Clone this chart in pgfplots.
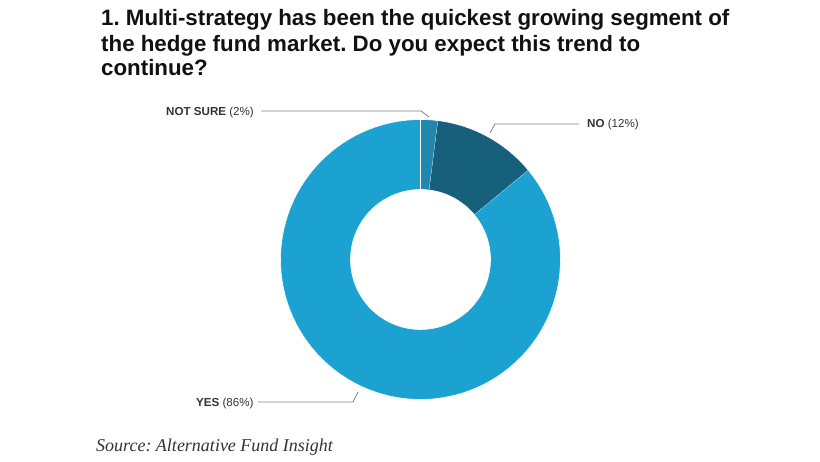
\documentclass[border=0pt]{standalone}
\usepackage{pgfplots}
\pgfplotsset{compat=1.18}
\usepackage{fontspec}
\setmainfont{Liberation Sans}
\newfontfamily\srcfont{Liberation Serif}
\definecolor{cyes}{HTML}{1CA2D0}
\definecolor{cno}{HTML}{17607C}
\definecolor{cns}{HTML}{2187AE}
\definecolor{ttl}{HTML}{111111}
\definecolor{txt}{HTML}{333333}
\definecolor{lead}{HTML}{808080}
% one donut segment: start and end as cumulative percentages, colour
\newcommand\seg[3]{%
\addplot[fill=#3, draw=white, line width=0.6pt, domain=0:2, samples=201, variable=\t]
 ({(\t<=1 ? 140 : 70)*cos(\t<=1 ? 90-3.6*(#1+(#2-#1)*\t) : 90-3.6*(#2-(#2-#1)*max(\t-1.01,0)/0.99))},
  {(\t<=1 ? 140 : 70)*sin(\t<=1 ? 90-3.6*(#1+(#2-#1)*\t) : 90-3.6*(#2-(#2-#1)*max(\t-1.01,0)/0.99))});
}
\begin{document}
\frenchspacing
\begin{tikzpicture}[x=1pt,y=1pt]
\useasboundingbox (0,0) rectangle (820,461);
\begin{axis}[at={(420.5,201.5)}, anchor=center, scale only axis,
  width=280pt, height=280pt, xmin=-140, xmax=140, ymin=-140, ymax=140,
  hide axis, clip=false]
% values: NOT SURE 2, NO 12, YES 86 (cumulative 0-2, 2-14, 14-100)
\seg{0}{2}{cns}
\seg{2}{14}{cno}
\seg{14}{100}{cyes}
\end{axis}
% title
\begin{scope}[every node/.style={anchor=base west, inner sep=0pt, text=ttl, font=\fontsize{22.3}{25}\selectfont\bfseries}]
\node at (101,435) {1. Multi-strategy has been the quickest growing segment of};
\node at (101,409.5) {the hedge fund market. Do you expect this trend to};
\node at (101,385) {continue?};
\end{scope}
% labels
\begin{scope}[every node/.style={anchor=base west, inner sep=0pt, text=txt, font=\fontsize{11.6}{13}\selectfont}]
\node at (166,345) {\textbf{NOT SURE} (2\%)};
\node at (587,333) {\textbf{NO} (12\%)};
\node at (196,55) {\textbf{YES} (86\%)};
\end{scope}
\draw[lead, line width=0.8pt] (261,350) -- (421,350) -- (429,344);
\draw[lead, line width=0.8pt] (579,337) -- (495,337) -- (490,328);
\draw[lead, line width=0.8pt] (258,59) -- (353,59) -- (358,69);
% source
\node[anchor=base west, inner sep=0pt, text=txt, font=\srcfont\itshape\fontsize{18}{20}\selectfont] at (96,10) {Source: Alternative Fund Insight};
\end{tikzpicture}
\end{document}
